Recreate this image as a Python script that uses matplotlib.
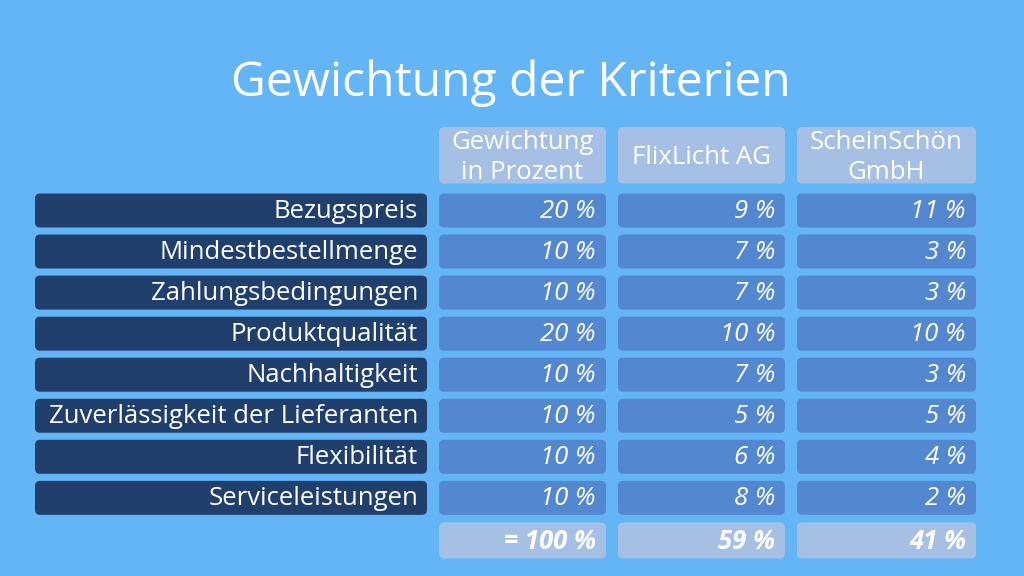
import matplotlib
matplotlib.use("Agg")
import matplotlib.pyplot as plt
from matplotlib.patches import FancyBboxPatch

plt.rcParams['font.family'] = ['Open Sans', 'DejaVu Sans']

title = "Gewichtung der Kriterien"
criteria = ["Bezugspreis", "Mindestbestellmenge", "Zahlungsbedingungen",
            "Produktqualität", "Nachhaltigkeit",
            "Zuverlässigkeit der Lieferanten", "Flexibilität",
            "Serviceleistungen"]
headers = ["Gewichtung\nin Prozent", "FlixLicht AG", "ScheinSchön\nGmbH"]
weights = [20, 10, 10, 20, 10, 10, 10, 10]
flixlicht = [9, 7, 7, 10, 7, 5, 6, 8]
scheinschoen = [11, 3, 3, 10, 3, 5, 4, 2]
totals = ["= 100 %", "59 %", "41 %"]

BG = "#64B5F6"
DARK = "#213F6D"
MID = "#5388D0"
LIGHT = "#A6BFE5"
FS = 18.5

fig = plt.figure(figsize=(10.24, 5.76), dpi=100)
fig.patch.set_facecolor(BG)
ax = fig.add_axes([0, 0, 1, 1])
ax.set_xlim(0, 1024)
ax.set_ylim(576, 0)
ax.axis("off")


def box(x0, y0, x1, y1, color, r=5):
    p = FancyBboxPatch((x0 + r, y0 + r), (x1 - x0) - 2 * r, (y1 - y0) - 2 * r,
                       boxstyle=f"round,pad={r},rounding_size={r}",
                       facecolor=color, edgecolor="none")
    ax.add_patch(p)


ax.text(511, 96, title, ha="center", va="baseline", color="white",
        fontsize=34.6)

label_x = (35, 427)
cols = [(439, 606), (618, 785), (797, 976)]
row_top0 = 193.5
pitch = 41.05
row_h = 34
head_y = (127, 183.5)
total_y = (522.5, 558.5)

# headers
for (cx0, cx1), h in zip(cols, headers):
    box(cx0, head_y[0], cx1, head_y[1], LIGHT)
    ax.text((cx0 + cx1) / 2, (head_y[0] + head_y[1]) / 2 + 2.5, h,
            ha="center", va="center", color="white", fontsize=FS,
            linespacing=1.28)

series = [weights, flixlicht, scheinschoen]
for i, name in enumerate(criteria):
    y0 = row_top0 + i * pitch
    y1 = y0 + row_h
    yc = (y0 + y1) / 2
    box(label_x[0], y0, label_x[1], y1, DARK)
    ax.text(label_x[1] - 9, yc + 1, name, ha="right", va="center",
            color="white", fontsize=FS)
    for (cx0, cx1), s in zip(cols, series):
        box(cx0, y0, cx1, y1, MID)
        ax.text(cx1 - 10, yc + 1, f"{s[i]} %", ha="right", va="center",
                color="white", fontsize=FS, style="italic")

for (cx0, cx1), t in zip(cols, totals):
    box(cx0, total_y[0], cx1, total_y[1], LIGHT)
    ax.text(cx1 - 10, (total_y[0] + total_y[1]) / 2 + 1, t, ha="right",
            va="center", color="white", fontsize=FS, style="italic",
            fontweight="bold")

fig.savefig("out.png", dpi=100, facecolor=BG)
